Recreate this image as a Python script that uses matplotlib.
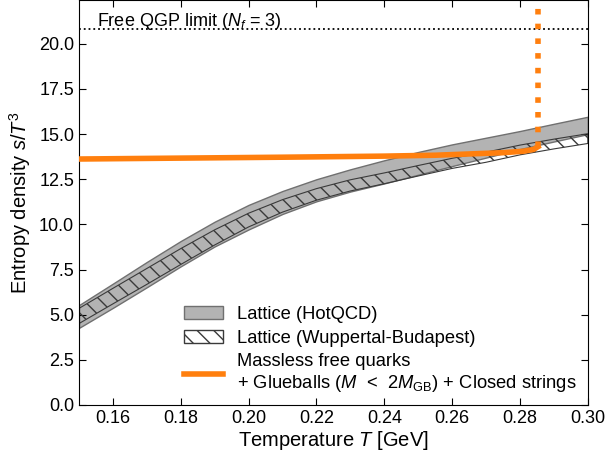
import numpy as np
import matplotlib
matplotlib.use("Agg")
import matplotlib.pyplot as plt
from matplotlib.patches import Patch
from matplotlib.lines import Line2D

plt.rcParams['font.family'] = ['Liberation Sans', 'DejaVu Sans']
plt.rcParams['mathtext.fontset'] = 'custom'
plt.rcParams['mathtext.rm'] = 'Liberation Sans'
plt.rcParams['mathtext.it'] = 'Liberation Sans:italic'
plt.rcParams['font.size'] = 13

# lattice bands (s/T^3)
T_lat = [0.150, 0.160, 0.170, 0.180, 0.190, 0.200, 0.210, 0.220, 0.230,
         0.240, 0.250, 0.260, 0.270, 0.280, 0.290, 0.300]
hot_hi = [5.53, 6.72, 7.92, 9.08, 10.15, 11.08, 11.85, 12.50, 13.05,
          13.55, 14.01, 14.43, 14.80, 15.17, 15.57, 15.96]
hot_lo = [4.27, 5.38, 6.52, 7.68, 8.78, 9.72, 10.58, 11.28, 11.82,
          12.27, 12.75, 13.23, 13.70, 14.17, 14.59, 15.00]
wb_hi = [5.35, 6.46, 7.56, 8.66, 9.70, 10.62, 11.37, 11.98, 12.47,
         12.85, 13.26, 13.66, 14.00, 14.39, 14.72, 15.02]
wb_lo = [4.51, 5.60, 6.68, 7.78, 8.86, 9.86, 10.68, 11.34, 11.85,
         12.25, 12.68, 13.10, 13.44, 13.85, 14.18, 14.48]

# massless quarks + glueballs + closed strings
T_mod = [0.150, 0.180, 0.210, 0.240, 0.255, 0.265, 0.275, 0.281, 0.284, 0.2853]
s_mod = [13.62, 13.67, 13.72, 13.78, 13.83, 13.90, 13.97, 14.05, 14.15, 14.30]
T_c = 0.2853
s_top = 23.0

s_qgp = 2 * np.pi**2 / 45 * (16 + 21 / 2 * 3)

fig = plt.figure(figsize=(6.06, 4.53), dpi=100)
ax = fig.add_axes([0.1304, 0.106, 0.8396, 0.893])

ax.fill_between(T_lat, hot_lo, hot_hi, facecolor='#b3b3b3', edgecolor='#707070', lw=1.0, zorder=1)
ax.fill_between(T_lat, wb_lo, wb_hi, facecolor='none', edgecolor='#3a3a3a', hatch='\\\\', lw=0.8, zorder=2)

ax.plot(T_mod, s_mod, color='#ff7f0e', lw=4, zorder=3)
ax.plot([T_c, T_c], [s_mod[-1], s_top], color='#ff7f0e', lw=4, ls=':', zorder=3)

ax.axhline(s_qgp, color='k', ls=':', lw=1.3)
ax.text(0.1553, 21.0, r'Free QGP limit ($N_f$ = 3)', fontsize=13)

ax.set_xlim(0.15, 0.30)
ax.set_ylim(0, 22.4)
ax.set_xticks(np.arange(0.16, 0.301, 0.02))
ax.set_yticks(np.arange(0, 20.1, 2.5))
ax.tick_params(direction='in', top=True, right=True, length=5)
ax.set_xlabel(r'Temperature $T$ [GeV]', fontsize=14.5, labelpad=1.5)
ax.set_ylabel(r'Entropy density $s/T^3$', fontsize=14.5)

handles = [
    Patch(facecolor='#b3b3b3', edgecolor='#707070'),
    Patch(facecolor='white', edgecolor='#3a3a3a', hatch='\\\\'),
    Line2D([], [], color='#ff7f0e', lw=4),
]
labels = ['Lattice (HotQCD)', 'Lattice (Wuppertal-Budapest)',
          'Massless free quarks\n+ Glueballs ($M$  <  2$M_{\\rm GB}$) + Closed strings']
ax.legend(handles, labels, loc='lower right', frameon=False, fontsize=13.2,
          handlelength=2.1, handletextpad=0.8, labelspacing=0.35,
          borderaxespad=0.2)

fig.savefig('out.png', dpi=100)
